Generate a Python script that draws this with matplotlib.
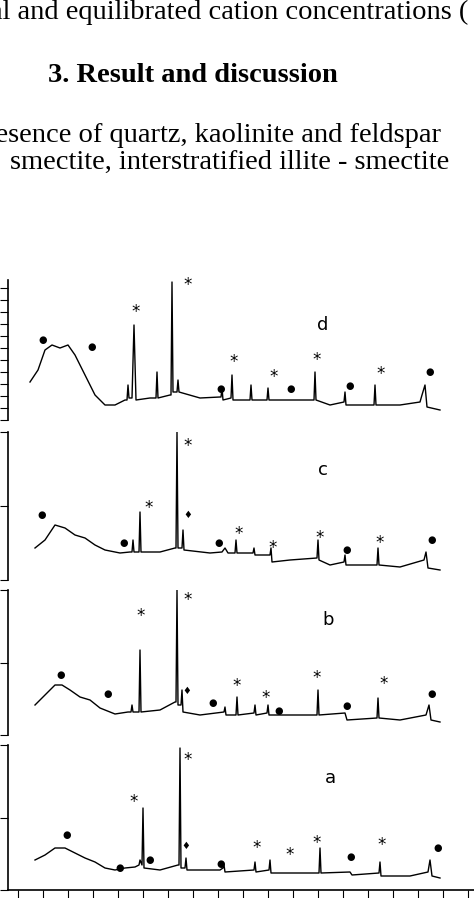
import numpy as np
import matplotlib
matplotlib.use("Agg")
import matplotlib.pyplot as plt

SCALE = 6.25  # chart position -> 2theta
d_pos = [30,38,45,52,60,68,75,85,95,105,115,125,127,128,129,132,134,136,150,156,157,158,170,171,172,173,177,178,179,200,220,221,222,223,231,232,233,250,251,252,267,268,269,290,314,315,316,330,344,345,346,374,375,376,400,420,422,425,427,440]
d_int = [38,50,70,75,72,75,65,45,25,15,15,20,20,35,22,22,95,20,22,22,48,22,25,25,138,28,28,40,28,22,23,23,32,20,22,45,20,20,35,20,20,32,20,20,20,48,20,15,18,28,15,15,35,15,15,18,25,35,13,10]
c_pos = [35,45,55,65,75,85,95,105,120,130,132,133,134,139,140,141,160,175,176,177,178,182,183,184,210,222,225,228,235,236,237,253,254,255,270,271,272,290,317,318,319,330,344,345,346,377,378,379,400,424,426,428,440]
c_int = [32,40,55,52,45,42,35,30,27,28,28,40,28,28,68,28,28,32,32,148,32,32,50,30,27,28,32,27,27,40,27,27,32,25,25,32,18,20,22,40,20,15,18,25,15,15,32,15,13,20,28,12,10]
b_pos = [35,45,55,62,70,80,90,100,115,128,131,132,133,139,140,141,160,175,176,177,178,181,182,183,200,224,225,226,236,237,238,254,255,256,267,268,269,290,317,318,319,345,347,377,378,379,400,426,429,431,440]
b_int = [30,40,50,50,45,38,35,27,21,23,23,30,23,23,85,23,25,33,33,145,30,30,45,23,20,23,28,20,20,38,20,22,30,20,22,30,20,20,20,45,20,22,15,17,37,17,15,20,30,15,13]
a_pos = [35,45,55,65,75,85,95,105,115,125,135,139,140,142,143,144,160,178,179,180,181,185,186,187,220,223,224,225,254,255,256,269,270,271,295,319,320,321,350,352,379,380,381,410,428,430,432,440]
a_int = [30,35,42,42,37,32,28,22,20,22,23,25,30,25,82,22,20,25,25,142,22,22,32,20,20,22,25,18,20,28,18,20,30,17,17,17,42,17,18,15,17,28,14,14,18,30,14,12]

labels = ["d", "c", "b", "a"]
panels = [(280, 420), (432, 580), (590, 735), (745, 890)]
marks = {
    "d": [(43,340,"●"),(92,347,"●"),(136,312,"*"),(188,285,"*"),(221,389,"●"),(234,362,"*"),(274,377,"*"),(291,389,"●"),(317,360,"*"),(350,386,"●"),(381,374,"*"),(430,372,"●")],
    "c": [(42,515,"●"),(124,543,"●"),(149,508,"*"),(188,446,"*"),(188,515,"♦"),(219,543,"●"),(239,534,"*"),(273,548,"*"),(320,538,"*"),(347,550,"●"),(380,543,"*"),(432,540,"●")],
    "b": [(61,675,"●"),(108,694,"●"),(141,616,"*"),(188,600,"*"),(187,691,"♦"),(213,703,"●"),(237,686,"*"),(266,698,"*"),(279,711,"●"),(317,678,"*"),(347,706,"●"),(384,684,"*"),(432,694,"●")],
    "a": [(67,835,"●"),(120,868,"●"),(150,860,"●"),(134,802,"*"),(188,760,"*"),(186,846,"♦"),(221,864,"●"),(257,848,"*"),(290,855,"*"),(317,843,"*"),(351,857,"●"),(382,845,"*"),(438,848,"●")],
}
label_pos = {"d": (323, 325), "c": (323, 470), "b": (328, 620), "a": (330, 778)}

W, H = 474, 898
fig = plt.figure(figsize=(W/100, H/100), dpi=100)
serif = ["Liberation Serif", "DejaVu Serif"]
fs = 20.5
fig.text(-10/W, 1-12/H, "al and equilibrated cation concentrations (", fontsize=fs, family=serif, va="center")
fig.text(193/W, 1-75/H, "3. Result and discussion", fontsize=fs, family=serif, weight="bold", va="center", ha="center")
fig.text(-14/W, 1-135/H, "resence of quartz, kaolinite and feldspar", fontsize=fs, family=serif, va="center")
fig.text(10/W, 1-162/H, "smectite, interstratified illite - smectite", fontsize=fs, family=serif, va="center")

tt = lambda p: np.asarray(p) / SCALE + 1.7
series = [(d_pos, d_int), (c_pos, c_int), (b_pos, b_int), (a_pos, a_int)]
for i, ((top, bot), lab, (pos, inten)) in enumerate(zip(panels, labels, series)):
    ax = fig.add_axes([8/W, 1-bot/H, (W-8)/W, (bot-top)/H])
    ax.plot(tt(pos), inten, color="black", lw=1.0)
    ax.set_xlim(tt(8), tt(474))
    ax.set_ylim(0, bot-top)
    for s in ["top", "right"]:
        ax.spines[s].set_visible(False)
    ax.spines["left"].set_linewidth(1.2)
    if lab == "d":
        ax.set_yticks(np.arange(0, 141, 12))
    else:
        ax.set_yticks([0, (bot-top)/2, bot-top])
    ax.tick_params(axis="y", direction="out", length=6, labelleft=False)
    if i < 3:
        ax.spines["bottom"].set_visible(False)
        ax.set_xticks([])
    else:
        ax.spines["bottom"].set_linewidth(1.2)
        ax.set_xticks(tt(np.arange(18, 474, 25)))
        ax.tick_params(axis="x", direction="out", length=7, labelbottom=False)
    for (p, py, sym) in marks[lab]:
        ax.text(tt(p), bot-py, sym, ha="center", va="center",
                fontsize=12 if sym == "*" else 7, family="DejaVu Sans")
    lx, ly = label_pos[lab]
    ax.text(tt(lx), bot-ly, lab, ha="center", va="center", fontsize=13)

fig.savefig("out.png", dpi=100)
